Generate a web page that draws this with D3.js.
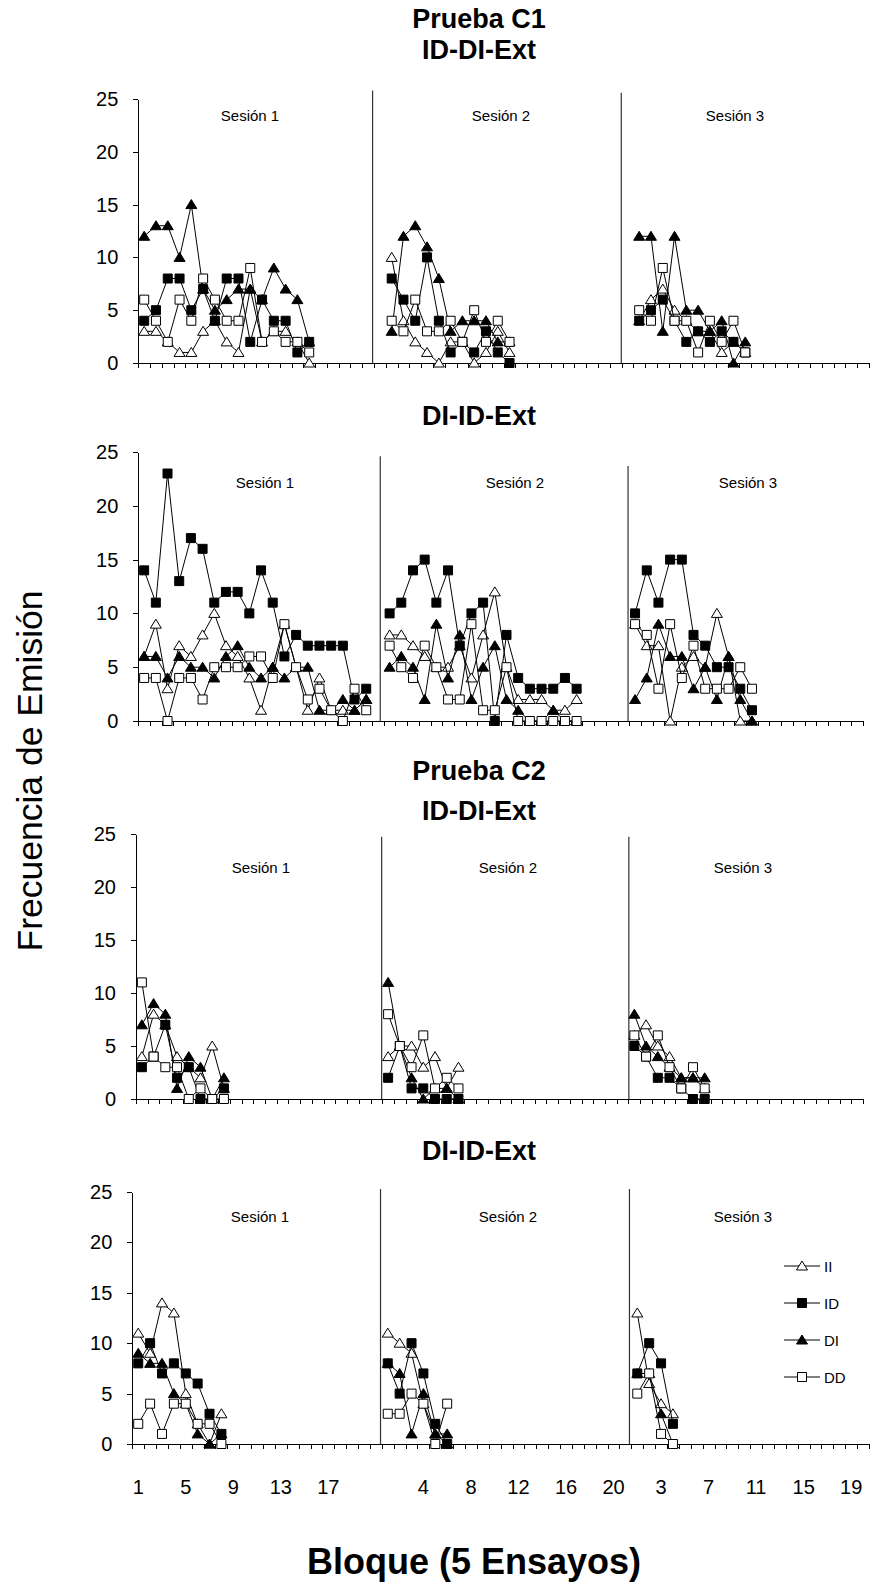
<!DOCTYPE html>
<html>
<head>
<meta charset="utf-8">
<title>Frecuencia de Emisión - Pruebas C1 y C2</title>
<script src="https://cdn.jsdelivr.net/npm/d3@7/dist/d3.min.js"></script>
<style>
  body { margin: 0; background: #fff; }
  svg text { font-family: Arial, "Liberation Sans", sans-serif; fill: #000; }
  .serie { fill: none; stroke: #000; stroke-width: 1px; }
  .axis path, .axis line { stroke: #000; shape-rendering: crispEdges; }
</style>
</head>
<body>
<svg id="chart" width="873" height="1588"></svg>
<script>
// categorias: 20 bloques por sesion, con un hueco entre sesiones
var sessionBlocks = d3.range(1, 21).map(String);
var blockLabels = sessionBlocks.concat([""], sessionBlocks, [""], sessionBlocks);
var sessionNames = ["Sesión 1", "Sesión 2", "Sesión 3"];
var seriesNames = ["II", "ID", "DI", "DD"];
var yTicks = [0, 5, 10, 15, 20, 25];

// Prueba C1, ID-DI-Ext  (una lista por sesion)
var c1a_II = [[3,3,2,1,1,3,4,2,1,7,2,3,3,2,0], [10,4,2,1,0,2,2,0,1,3,1], [4,6,7,5,4,3,3,1,2,1]];
var c1a_ID = [[4,5,8,8,5,7,4,8,8,2,6,4,4,1,2], [8,6,4,10,4,1,2,1,3,1,0], [4,5,6,4,2,3,2,3,2,1]];
var c1a_DI = [[12,13,13,10,15,7,5,6,7,7,6,9,7,6,2], [3,12,13,11,8,3,4,4,4,2,2], [12,12,3,12,5,5,3,4,0,2]];
var c1a_DD = [[6,4,2,6,4,8,6,4,4,9,2,3,2,2,1], [4,3,6,3,3,4,2,5,2,4,2], [5,4,9,4,4,1,4,2,4,1]];

// Prueba C1, DI-ID-Ext
var c1b_II = [[6,9,3,7,6,8,10,7,6,4,1,5,9,5,1,4,1,1,1,2], [8,8,7,6,5,5,7,4,8,12,5,2,2,2,1,1,2], [9,7,7,0,5,6,5,10,6,0,0]];
var c1b_ID = [[14,11,23,13,17,16,11,12,12,10,14,11,6,8,7,7,7,7,2,3], [10,11,14,15,11,14,7,10,11,0,8,4,3,3,3,4,3], [10,14,11,15,15,8,7,5,5,3,1]];
var c1b_DI = [[6,6,4,6,5,5,4,6,7,5,4,5,4,5,5,1,1,2,1,2], [5,6,5,2,9,4,8,2,5,7,2,1,0,0,1,0,0], [2,4,9,6,6,3,5,2,6,2,0]];
var c1b_DD = [[4,4,0,4,4,2,5,5,5,6,6,4,9,5,2,3,1,0,3,1], [7,5,4,7,5,2,2,9,1,1,5,0,0,0,0,0,0], [9,8,3,9,4,7,3,3,3,5,3]];

// Prueba C2, ID-DI-Ext
var c2a_II = [[4,8,7,4,3,2,5,1], [4,5,5,3,4,1,3], [6,7,5,4,2,2,1]];
var c2a_ID = [[3,4,7,2,3,0,0,1], [2,5,1,1,0,0,0], [5,4,2,2,1,0,0]];
var c2a_DI = [[7,9,8,1,4,3,0,2], [11,5,2,0,1,1,0], [8,5,4,3,2,2,2]];
var c2a_DD = [[11,4,3,3,0,1,0,0], [8,5,3,6,1,2,1], [6,4,6,3,1,3,1]];

// Prueba C2, DI-ID-Ext
var c2b_II = [[11,9,14,13,5,2,0,3], [11,10,9,4,1,0], [13,6,4,3]];
var c2b_ID = [[8,10,7,8,7,6,3,1], [8,5,10,7,2,0], [7,10,8,2]];
var c2b_DI = [[9,8,8,5,4,1,0,1], [8,7,1,5,1,1], [7,7,3,0]];
var c2b_DD = [[2,4,1,4,4,2,2,0], [3,3,5,4,0,4], [5,7,1,0]];

// layout de cada panel (pixeles); divisores en unidades de categoria
var panels = [
  { titles: [["Prueba C1", 28], ["ID-DI-Ext", 59]], left: 138.3, right: 869, top: 99, bottom: 363,
    data: { II: c1a_II, ID: c1a_ID, DI: c1a_DI, DD: c1a_DD },
    dividers: [[19.88, 25.8], [40.98, 25.6]], labelX: [250, 501, 735], labelY: 115 },
  { titles: [["DI-ID-Ext", 425]], left: 138.3, right: 863, top: 452, bottom: 721,
    data: { II: c1b_II, ID: c1b_ID, DI: c1b_DI, DD: c1b_DD },
    dividers: [[20.7, 24.6], [41.9, 23.7]], labelX: [265, 515, 748], labelY: 482 },
  { titles: [["Prueba C2", 780], ["ID-DI-Ext", 820]], left: 136, right: 863, top: 834, bottom: 1099,
    data: { II: c2a_II, ID: c2a_ID, DI: c2a_DI, DD: c2a_DD },
    dividers: [[20.95, 24.75], [42.03, 24.75]], labelX: [261, 508, 743], labelY: 867 },
  { titles: [["DI-ID-Ext", 1160]], left: 132.3, right: 869, top: 1192, bottom: 1444,
    data: { II: c2b_II, ID: c2b_ID, DI: c2b_DI, DD: c2b_DD },
    dividers: [[20.89, 25.3], [41.84, 25.3]], labelX: [260, 508, 743], labelY: 1216,
    xLabels: true, legend: true }
];

var markerStyle = {
  II: { shape: "M0,-5L5.5,4L-5.5,4Z", fill: "#fff" },
  ID: { shape: "M-4.5,-4.5H4.5V4.5H-4.5Z", fill: "#000" },
  DI: { shape: "M0,-5L5.5,4L-5.5,4Z", fill: "#000" },
  DD: { shape: "M-4.5,-4.5H4.5V4.5H-4.5Z", fill: "#fff" }
};

var svg = d3.select("#chart");
var centerX = 479;

// inicio de cada sesion = posicion del bloque "1"
var sessionStart = blockLabels.map(function(d, i) { return d === "1" ? i : -1; })
                              .filter(function(i) { return i >= 0; });

panels.forEach(function(p) {
  var x = d3.scaleLinear().domain([0, blockLabels.length]).range([p.left, p.right]);
  var y = d3.scaleLinear().domain([0, 25]).range([p.bottom, p.top]);
  var g = svg.append("g");

  p.titles.forEach(function(t) {
    g.append("text").attr("x", centerX).attr("y", t[1])
      .attr("text-anchor", "middle").style("font-size", "27px").style("font-weight", "bold")
      .text(t[0]);
  });

  // eje Y
  var yAxis = g.append("g").attr("class", "axis")
    .attr("transform", "translate(" + p.left + ",0)")
    .call(d3.axisLeft(y).tickValues(yTicks).tickSize(5).tickSizeOuter(0).tickPadding(15));
  yAxis.selectAll("text").style("font-size", "20px");

  // eje X (marcas entre categorias)
  g.append("g").attr("class", "axis")
    .attr("transform", "translate(0," + p.bottom + ")")
    .call(d3.axisBottom(x).tickValues(d3.range(0, blockLabels.length + 1))
      .tickSize(5).tickSizeOuter(0).tickFormat(""));

  // divisores entre sesiones
  p.dividers.forEach(function(dv) {
    g.append("line")
      .attr("x1", x(dv[0])).attr("x2", x(dv[0]))
      .attr("y1", y(dv[1])).attr("y2", p.bottom)
      .style("stroke", "#333").style("stroke-width", 1.2);
  });

  sessionNames.forEach(function(name, s) {
    g.append("text").attr("x", p.labelX[s]).attr("y", p.labelY)
      .attr("text-anchor", "middle").attr("dominant-baseline", "central")
      .style("font-size", "15px").text(name);
  });

  var line = d3.line()
    .x(function(d) { return x(d.i + 0.5); })
    .y(function(d) { return y(d.v); });

  seriesNames.forEach(function(name) {
    var st = markerStyle[name];
    p.data[name].forEach(function(vals, s) {
      var pts = vals.map(function(v, j) { return { i: sessionStart[s] + j, v: v }; });
      g.append("path").datum(pts).attr("class", "serie").attr("d", line);
      g.selectAll(null).data(pts).enter().append("path")
        .attr("d", st.shape)
        .attr("transform", function(d) { return "translate(" + x(d.i + 0.5) + "," + y(d.v) + ")"; })
        .style("fill", st.fill).style("stroke", "#000").style("stroke-width", 1);
    });
  });

  if (p.xLabels) {
    blockLabels.forEach(function(lab, i) {
      if (i % 4 !== 0 || lab === "") return;
      g.append("text").attr("x", x(i + 0.5)).attr("y", 1494)
        .attr("text-anchor", "middle").style("font-size", "20px").text(lab);
    });
  }

  if (p.legend) {
    var lg = g.append("g");
    seriesNames.forEach(function(name, k) {
      var ly = 1266 + k * 37;
      lg.append("line").attr("x1", 784).attr("x2", 820).attr("y1", ly).attr("y2", ly)
        .style("stroke", "#000");
      lg.append("path").attr("d", markerStyle[name].shape)
        .attr("transform", "translate(802," + ly + ")")
        .style("fill", markerStyle[name].fill).style("stroke", "#000");
      lg.append("text").attr("x", 824).attr("y", ly).attr("dominant-baseline", "central")
        .style("font-size", "15px").text(name);
    });
  }
});

// titulos de ejes
svg.append("text").attr("x", 474).attr("y", 1574)
  .attr("text-anchor", "middle").style("font-size", "36px").style("font-weight", "bold")
  .text("Bloque (5 Ensayos)");

svg.append("text").attr("transform", "translate(30,771) rotate(-90)")
  .attr("text-anchor", "middle").attr("dominant-baseline", "central")
  .style("font-size", "35.5px").text("Frecuencia de Emisión");
</script>
</body>
</html>
